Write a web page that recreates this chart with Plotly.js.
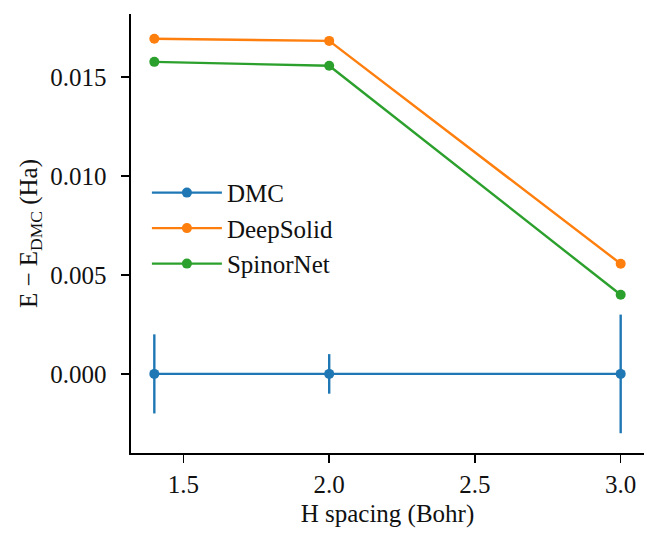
<!DOCTYPE html>
<html>
<head>
<meta charset="utf-8">
<script src="https://cdn.plot.ly/plotly-3.0.1.min.js"></script>
<style>html,body{margin:0;padding:0;background:#fff;}#chart{width:647px;height:535px;}</style>
</head>
<body>
<div id="chart"></div>
<script>
var spacing = [1.4, 2.0, 3.0];
var dmc = [0, 0, 0];
var dmcErr = [0.002, 0.001, 0.003];
var deepSolid = [0.01695, 0.01684, 0.00557];
var spinorNet = [0.01578, 0.01558, 0.00400];
var seriesNames = ['DMC', 'DeepSolid', 'SpinorNet'];
var colors = ['#1f77b4', '#ff7f0e', '#2ca02c'];

var font = 'Liberation Serif, DejaVu Serif, serif';
var fsize = 25;

function mk(name, y, color, err) {
  var t = {
    x: spacing, y: y, name: name, type: 'scatter', mode: 'lines+markers',
    line: {color: color, width: 2.4},
    marker: {color: color, size: 10}
  };
  if (err) {
    t.error_y = {type: 'data', array: err, visible: true, color: color, thickness: 2.4, width: 0};
  }
  return t;
}

var data = [
  mk(seriesNames[0], dmc, colors[0], dmcErr),
  mk(seriesNames[1], deepSolid, colors[1]),
  mk(seriesNames[2], spinorNet, colors[2])
];

var layout = {
  width: 647, height: 535,
  margin: {l: 131, r: 3, t: 14, b: 82},
  paper_bgcolor: '#fff', plot_bgcolor: '#fff',
  font: {family: font, size: fsize, color: '#111'},
  showlegend: true,
  legend: {x: 0.031, y: 0.645, xanchor: 'left', yanchor: 'top',
           bgcolor: 'rgba(0,0,0,0)', font: {family: font, size: fsize}, itemwidth: 70, tracegroupgap: 0},
  xaxis: {
    range: [1.32, 3.08], dtick: 0.5, tick0: 0, tickformat: '.1f',
    showgrid: false, zeroline: false, showline: true, linecolor: '#000', linewidth: 1.6,
    ticks: 'outside', ticklen: 8, tickwidth: 1.6, tickcolor: '#000',
    mirror: false,
    title: {text: 'H spacing (Bohr)', font: {family: font, size: fsize}, standoff: 8}
  },
  yaxis: {
    range: [-0.004, 0.0182], dtick: 0.005, tick0: 0, tickformat: '.3f',
    showgrid: false, zeroline: false, showline: true, linecolor: '#000', linewidth: 1.6,
    ticks: 'outside', ticklen: 8, tickwidth: 1.6, tickcolor: '#000',
    ticklabelstandoff: 10,
    title: {text: 'E − E<sub>DMC</sub> (Ha)', font: {family: font, size: fsize}, standoff: 5}
  }
};

Plotly.newPlot('chart', data, layout, {displayModeBar: false, staticPlot: true});
</script>
</body>
</html>
